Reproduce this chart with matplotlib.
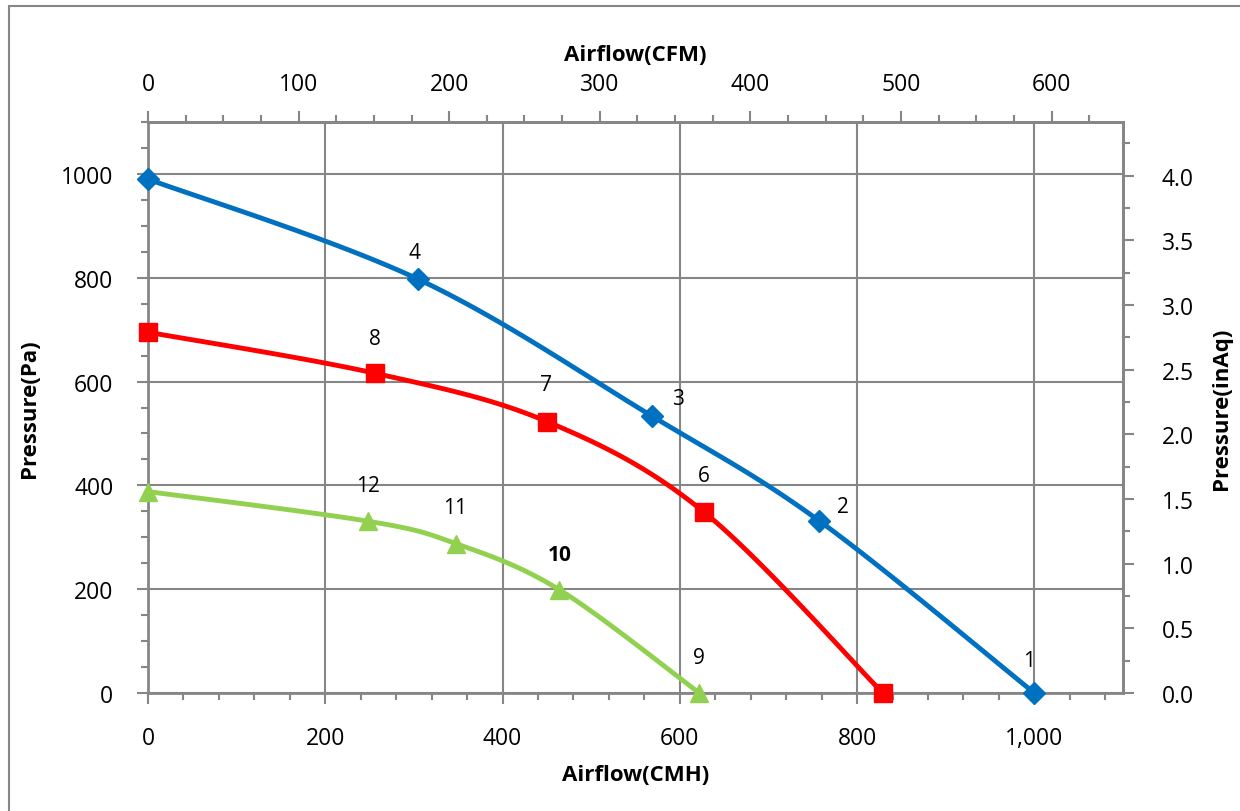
import numpy as np
import matplotlib
matplotlib.use('Agg')
import matplotlib.pyplot as plt
from matplotlib.ticker import MultipleLocator, FixedLocator, FormatStrFormatter
from matplotlib.patches import Rectangle

plt.rcParams['font.family'] = ['Open Sans', 'DejaVu Sans']

# airflow (CMH) and pressure (Pa)
blue_x = [0, 305, 569, 757, 1000]
blue_y = [990, 797, 533, 332, 0]
blue_lbl = ['', '4', '3', '2', '1']

red_x = [0, 256, 450, 627, 829]
red_y = [695, 616, 523, 349, 0]
red_lbl = ['', '8', '7', '6', '']

green_x = [0, 248, 347, 464, 622]
green_y = [388, 331, 288, 199, 0]
green_lbl = ['', '12', '11', '10', '9']

cfm_ticks = [0, 100, 200, 300, 400, 500, 600]
inaq_ticks = [0.0, 0.5, 1.0, 1.5, 2.0, 2.5, 3.0, 3.5, 4.0]

CMH_PER_CFM = 1.699
PA_PER_INAQ = 249.09

grey = '#868686'

fig = plt.figure(figsize=(12.4, 8.12), dpi=100)
fig.patches.append(Rectangle((9/1240, -0.05), 1.2, (812-7)/812 + 0.05, transform=fig.transFigure,
                             fill=False, edgecolor=grey, lw=1.5))
ax = fig.add_axes([148/1240, 1-694/812, (1123-148)/1240, (694-123)/812])
ax.set_xlim(0, 1100)
ax.set_ylim(0, 1100)


def smooth(xs, ys):
    # excel style bezier smoothing, done in pixel space
    p = ax.transData.transform(np.column_stack([xs, ys]))
    n = len(p)
    out = []
    t = np.linspace(0, 1, 30)[:, None]
    for i in range(n - 1):
        p0 = p[max(i - 1, 0)]
        p1 = p[i]
        p2 = p[i + 1]
        p3 = p[min(i + 2, n - 1)]
        c1 = p1 + (p2 - p0) / 6
        c2 = p2 - (p3 - p1) / 6
        seg = (1-t)**3*p1 + 3*(1-t)**2*t*c1 + 3*(1-t)*t**2*c2 + t**3*p2
        out.append(seg)
    out = np.vstack(out)
    d = ax.transData.inverted().transform(out)
    return d[:, 0], d[:, 1]


series = [
    (blue_x, blue_y, blue_lbl, '#0070C0', 'D', 11, [(0, 0), (-4, 27), (26, 18), (24, 14), (-5, 32)]),
    (red_x, red_y, red_lbl, '#FF0000', 's', 13, [(0, 0), (0, 35), (-1, 37), (0, 36), (0, 0)]),
    (green_x, green_y, green_lbl, '#92D050', '^', 13, [(0, 0), (0, 36), (-1, 36), (0, 35), (0, 35)]),
]

for xs, ys, lbls, col, mk, ms, offs in series:
    sx, sy = smooth(xs, ys)
    ax.plot(sx, sy, color=col, lw=3.5, zorder=3, clip_on=False, solid_capstyle='round')
    ax.plot(xs, ys, ls='none', marker=mk, ms=ms, color=col, zorder=4, clip_on=False)
    for x, y, l, o in zip(xs, ys, lbls, offs):
        if l:
            ax.annotate(l, (x, y), xytext=(o[0] * 0.72, o[1] * 0.72), textcoords='offset points',
                        ha='center', va='center', fontsize=15,
                        fontweight='bold' if l == '10' else 'normal')

# grid and spines
ax.xaxis.set_minor_locator(MultipleLocator(40))
ax.yaxis.set_minor_locator(MultipleLocator(50))
ax.grid(True, which='major', color=grey, lw=1.5, zorder=1)
for s in ax.spines.values():
    s.set_color(grey)
    s.set_linewidth(2)
ax.set_xticks([0, 200, 400, 600, 800, 1000])
ax.set_xticklabels(['0', '200', '400', '600', '800', '1,000'])
ax.set_yticks([0, 200, 400, 600, 800, 1000])
ax.tick_params(which='both', color=grey, width=1.5, labelsize=16.5)
ax.tick_params(which='major', length=8)
ax.tick_params(which='minor', length=5)
ax.tick_params(axis='x', which='major', pad=16)
ax.tick_params(axis='y', which='major', pad=17)
ax.set_xlabel('Airflow(CMH)', fontsize=16, fontweight='bold', labelpad=10)
ax.set_ylabel('Pressure(Pa)', fontsize=16, fontweight='bold', labelpad=15)

# CFM on top
top = ax.secondary_xaxis('top', functions=(lambda v: v / CMH_PER_CFM, lambda v: v * CMH_PER_CFM))
top.xaxis.set_major_locator(FixedLocator(cfm_ticks))
top.xaxis.set_minor_locator(FixedLocator(np.arange(25, 650, 25)))
top.spines['top'].set_color(grey)
top.spines['top'].set_linewidth(2)
top.tick_params(which='both', color=grey, width=1.5, labelsize=16.5, pad=11)
top.tick_params(which='major', length=8)
top.tick_params(which='minor', length=5)
top.set_xlabel('Airflow(CFM)', fontsize=16, fontweight='bold', labelpad=8)

# inAq on the right
right = ax.secondary_yaxis('right', functions=(lambda v: v / PA_PER_INAQ, lambda v: v * PA_PER_INAQ))
right.yaxis.set_major_locator(FixedLocator(inaq_ticks))
right.yaxis.set_minor_locator(FixedLocator(np.arange(0.25, 4.4, 0.5)))
right.yaxis.set_major_formatter(FormatStrFormatter('%.1f'))
right.spines['right'].set_color(grey)
right.spines['right'].set_linewidth(2)
right.tick_params(which='both', color=grey, width=1.5, labelsize=16.5, pad=20)
right.tick_params(which='major', length=8)
right.tick_params(which='minor', length=5)
right.set_ylabel('Pressure(inAq)', fontsize=16, fontweight='bold', labelpad=12)

fig.savefig('out.png', dpi=100)
